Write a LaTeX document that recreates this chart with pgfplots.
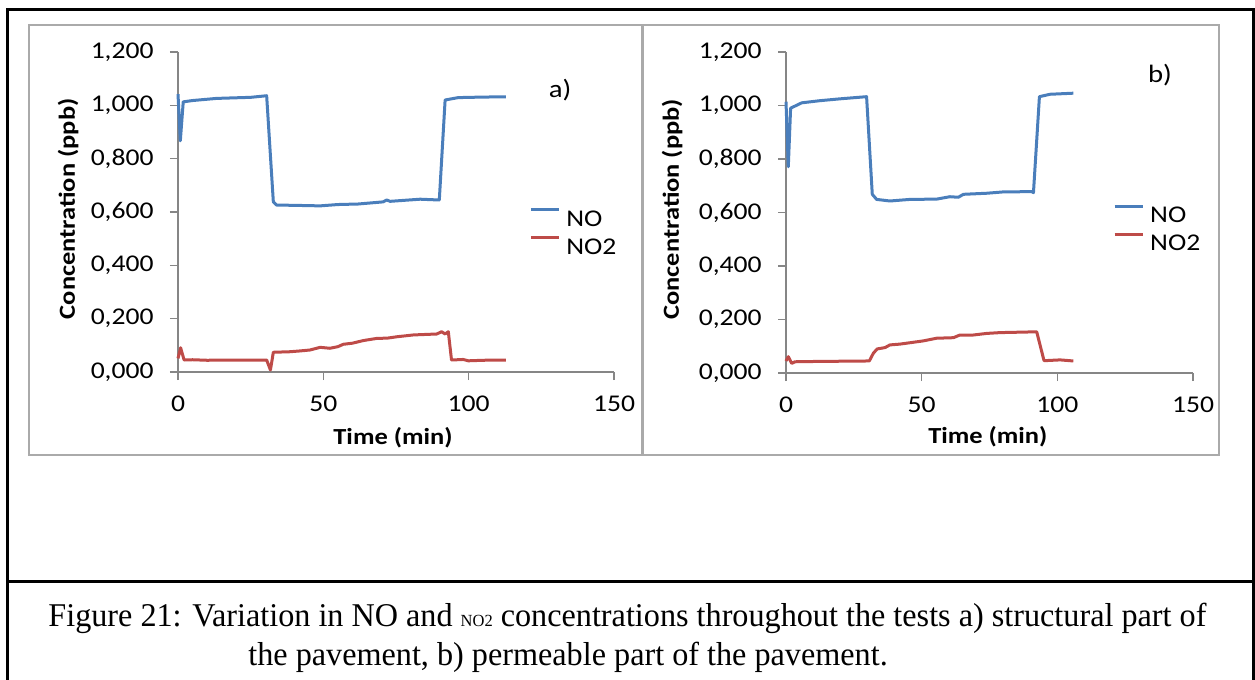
\documentclass[border=0pt]{standalone}
\usepackage{fontspec}
\setmainfont{Carlito}[FakeStretch=1.15]
\newfontfamily\capfont{Liberation Serif}[FakeStretch=0.97]
\usepackage{pgfplots}
\pgfplotsset{compat=1.18}

\definecolor{noblue}{RGB}{74,126,187}
\definecolor{nored}{RGB}{190,75,72}
\definecolor{axgray}{RGB}{134,134,134}
\definecolor{boxgray}{RGB}{170,170,170}

\pgfplotsset{panel/.style={
  scale only axis, anchor=south west, clip=false,
  xmin=0, xmax=150, ymin=0, ymax=1.2,
  axis x line*=bottom, axis y line*=left,
  axis line style={axgray, line width=0.6pt, -},
  tick style={axgray, line width=0.6pt},
  tick align=outside, major tick length=4pt,
  xtick={0,50,100,150}, xticklabels={0,50,100,150},
  ytick={0,0.2,0.4,0.6,0.8,1.0,1.2},
  yticklabels={{0,000},{0,200},{0,400},{0,600},{0,800},{1,000},{1,200}},
  ticklabel style={font=\fontsize{12}{14}\selectfont, text=black},
  yticklabel style={anchor=east, inner sep=0pt, xshift=-8pt},
  xticklabel style={anchor=north, inner sep=0pt, yshift=-8pt},
  xlabel={Time (min)}, ylabel={Concentration (ppb)},
  label style={font=\bfseries\fontsize{11.5}{14}\selectfont},
  legend cell align=left,
  legend style={draw=none, fill=none, anchor=west, inner sep=0pt,
    font=\fontsize{12}{14}\selectfont, row sep=5pt, column sep=3pt,
    nodes={inner sep=0pt, text height=8.5pt, text depth=0pt}},
  legend image code/.code={\draw[#1] (0pt,4pt) -- (14pt,4pt);},
  every axis plot/.append style={line width=1.5pt, line join=round},
}}

\begin{document}
\begin{tikzpicture}
\useasboundingbox (0,0) rectangle (627.5pt,-340pt);

\begin{scope}[x=0.5pt,y=-0.5pt]
  \draw[boxgray, line width=0.6pt] (29,25) rectangle (642,455);
  \draw[boxgray, line width=0.6pt] (643,25) rectangle (1219,455);
  \draw[black, line width=1.4pt] (7.8,680) -- (7.8,9.7) -- (1253.5,9.7) -- (1253.5,680);
  \draw[black, line width=1.4pt] (7.8,581.7) -- (1253.5,581.7);
  \node[font=\fontsize{12.5}{14}\selectfont] at (560,90) {a)};
  \node[font=\fontsize{12.5}{14}\selectfont] at (1160,75) {b)};
  \node[anchor=base west, inner sep=0pt, font=\capfont\fontsize{16.6}{18}\selectfont] at (48,626)
    {Figure 21: Variation in NO and {\fontsize{8.5}{10}\selectfont NO2} concentrations throughout the tests a) structural part of};
  \node[anchor=base west, inner sep=0pt, font=\capfont\fontsize{16.6}{18}\selectfont] at (248,665)
    {the pavement, b) permeable part of the pavement.};
\end{scope}

% a) structural part
\begin{axis}[panel, at={(89pt,-186pt)}, width=218pt, height=160pt,
  ylabel style={at={(axis description cs:-0.252,0.51)}, anchor=center},
  xlabel style={at={(axis description cs:0.493,-0.206)}, anchor=center},
  legend style={at={(axis description cs:0.805,0.44)}}]
\addplot[noblue] coordinates {(0,1.042) (0.8,0.867) (1.8,1.013) (5,1.018) (13.3,1.026) (25,1.030) (30.5,1.036) (32.8,0.638) (33.9,0.626) (40,0.625) (48.9,0.623) (55,0.628) (62,0.630) (70.6,0.638) (71.8,0.645) (73,0.640) (83.3,0.648) (89.9,0.645) (91.9,1.02) (96.4,1.029) (105,1.031) (112.8,1.032)};
\addlegendentry{NO}
\addplot[nored] coordinates {(0,0.051) (0.9,0.091) (2.1,0.045) (5,0.046) (10,0.044) (20,0.045) (30.5,0.045) (31.8,0.0075) (32.8,0.074) (38.5,0.076) (42,0.079) (45.4,0.0825) (48.9,0.0925) (52.3,0.089) (55,0.095) (56.9,0.104) (60,0.108) (63.8,0.118) (68.4,0.126) (72,0.127) (75.2,0.132) (81,0.139) (89,0.1425) (90.7,0.151) (91.9,0.1425) (93,0.151) (94.1,0.045) (98.1,0.047) (99.9,0.042) (105,0.044) (112.8,0.045)};
\addlegendentry{NO2}
\end{axis}

% b) permeable part
\begin{axis}[panel, at={(393pt,-186.5pt)}, width=203.5pt, height=160.5pt,
  ylabel style={at={(axis description cs:-0.28,0.51)}, anchor=center},
  xlabel style={at={(axis description cs:0.496,-0.199)}, anchor=center},
  legend style={at={(axis description cs:0.803,0.452)}}]
\addplot[noblue] coordinates {(0,1.014) (0.85,0.771) (1.7,0.99) (5.8,1.01) (12.5,1.018) (20,1.025) (29.7,1.033) (31.8,0.668) (33.4,0.649) (38.3,0.643) (45.7,0.649) (55.5,0.650) (60.4,0.659) (63.5,0.657) (65.4,0.668) (74,0.672) (80.1,0.677) (90.6,0.678) (91.2,0.674) (93.4,1.033) (97.3,1.042) (105.9,1.046)};
\addlegendentry{NO}
\addplot[nored] coordinates {(0,0.045) (0.85,0.061) (2.1,0.036) (3.3,0.042) (10,0.043) (20,0.044) (30.7,0.045) (32.2,0.074) (33.6,0.090) (36.5,0.095) (38.3,0.105) (42,0.108) (50.6,0.120) (55.5,0.130) (61.7,0.132) (64.1,0.142) (69,0.142) (74,0.148) (78.9,0.151) (92.4,0.154) (95.1,0.046) (101,0.049) (105.9,0.045)};
\addlegendentry{NO2}
\end{axis}
\end{tikzpicture}
\end{document}
